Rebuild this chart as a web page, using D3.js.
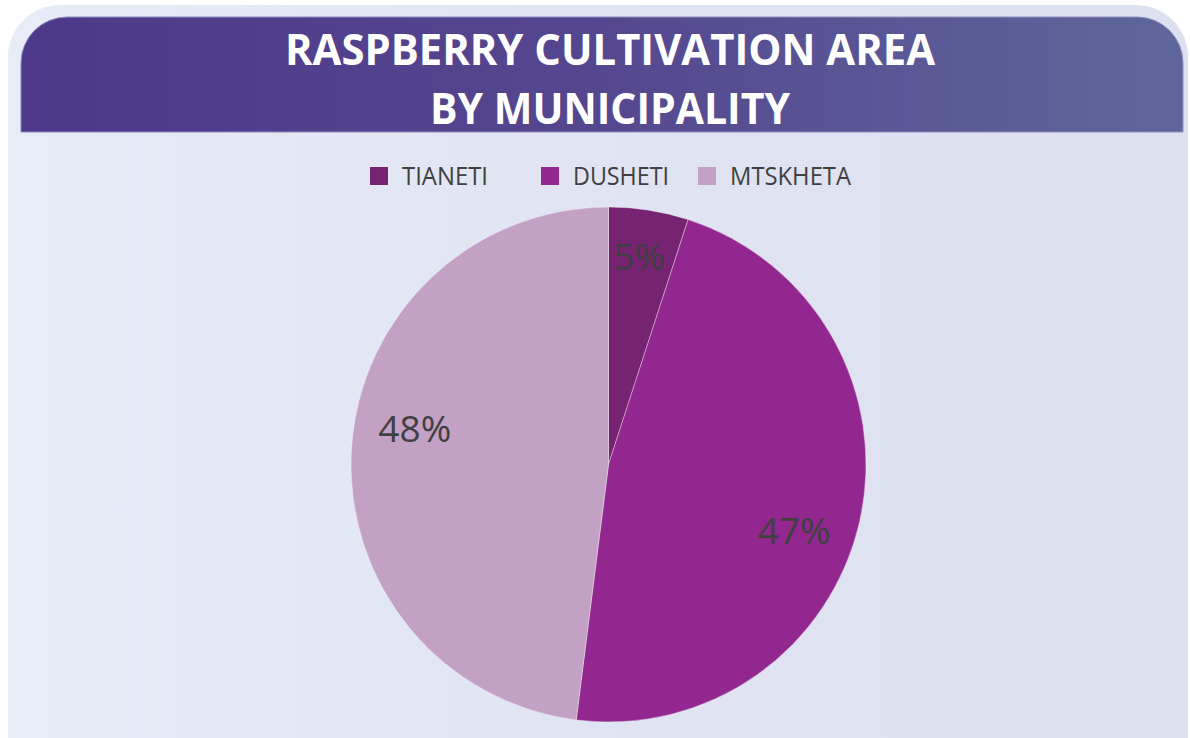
<!DOCTYPE html>
<html>
<head>
<meta charset="utf-8">
<script src="https://cdn.jsdelivr.net/npm/d3@7"></script>
<style>
  html, body { margin: 0; padding: 0; background: #ffffff; }
  svg { display: block; }
</style>
</head>
<body>
<svg id="chart" width="1190" height="738"></svg>
<script>
// Municipality shares of raspberry cultivation area (%)
const municipalities = ["TIANETI", "DUSHETI", "MTSKHETA"];
const shares = [5, 47, 48];
const sliceColors = ["#762372", "#92278f", "#c3a1c4"];
const titleLines = ["RASPBERRY CULTIVATION AREA", "BY MUNICIPALITY"];

const svg = d3.select("#chart");
const defs = svg.append("defs");

// panel background gradient
const bg = defs.append("linearGradient").attr("id", "panelBg")
  .attr("x1", "0%").attr("x2", "100%").attr("y1", "0%").attr("y2", "0%");
bg.append("stop").attr("offset", "0%").attr("stop-color", "#e7ecf7");
bg.append("stop").attr("offset", "55%").attr("stop-color", "#e0e3f1");
bg.append("stop").attr("offset", "100%").attr("stop-color", "#dde0ef");

// header band gradient
const hg = defs.append("linearGradient").attr("id", "headerBg")
  .attr("x1", "0%").attr("x2", "100%").attr("y1", "0%").attr("y2", "0%");
hg.append("stop").attr("offset", "0%").attr("stop-color", "#4e3889");
hg.append("stop").attr("offset", "50%").attr("stop-color", "#55478f");
hg.append("stop").attr("offset", "100%").attr("stop-color", "#5e679c");

// rectangle with rounded top corners only
function topRounded(x, y, w, h, r) {
  return `M${x},${y + h} L${x},${y + r} A${r},${r} 0 0 1 ${x + r},${y} ` +
         `L${x + w - r},${y} A${r},${r} 0 0 1 ${x + w},${y + r} L${x + w},${y + h} Z`;
}

svg.append("path")
  .attr("d", topRounded(8, 5, 1180, 760, 52))
  .attr("fill", "url(#panelBg)");

svg.append("path")
  .attr("d", topRounded(21, 17, 1162, 115, 46))
  .attr("fill", "url(#headerBg)")
  .attr("stroke", "#8d8cbd")
  .attr("stroke-width", 1);

// title
const titleWidths = [650, 360];
svg.append("g").selectAll("text")
  .data(titleLines)
  .join("text")
  .attr("x", 610)
  .attr("y", (d, i) => 65 + i * 59)
  .attr("text-anchor", "middle")
  .attr("textLength", (d, i) => titleWidths[i])
  .attr("lengthAdjust", "spacingAndGlyphs")
  .attr("font-family", "'Open Sans', sans-serif")
  .attr("font-weight", 700)
  .attr("font-size", 43)
  .attr("fill", "#ffffff")
  .text(d => d);

// colour scale
const color = d3.scaleOrdinal().domain(municipalities).range(sliceColors);

// legend
const legendX = [370, 541, 698];
const legendTextW = [86, 96, 121];
const legend = svg.append("g").selectAll("g")
  .data(municipalities)
  .join("g")
  .attr("transform", (d, i) => `translate(${legendX[i]},167)`);
legend.append("rect")
  .attr("width", 18).attr("height", 18)
  .attr("fill", d => color(d));
legend.append("text")
  .attr("x", 32).attr("y", 18)
  .attr("textLength", (d, i) => legendTextW[i])
  .attr("lengthAdjust", "spacingAndGlyphs")
  .attr("font-family", "'Open Sans', sans-serif")
  .attr("font-size", 25)
  .attr("fill", "#404040")
  .text(d => d);

// pie
const cx = 608.5, cy = 464.5, R = 257.5;
const pie = d3.pie().sort(null).value(d => d.value);
const arcs = pie(municipalities.map((m, i) => ({ name: m, value: shares[i] })));
const arc = d3.arc().innerRadius(0).outerRadius(R);

const g = svg.append("g").attr("transform", `translate(${cx},${cy})`);
g.selectAll("path")
  .data(arcs)
  .join("path")
  .attr("d", arc)
  .attr("fill", d => color(d.data.name))
  .attr("stroke", "rgba(255,255,255,0.35)")
  .attr("stroke-width", 1);

// data labels, placed inside each slice
const labelPos = d => {
  const big = (d.endAngle - d.startAngle) > 1;
  const a = (d.startAngle + d.endAngle) / 2 + (big ? 0.12 : -0.01);
  const r = big ? 197 : 210;
  return [Math.sin(a) * r, -Math.cos(a) * r];
};
g.selectAll("text")
  .data(arcs)
  .join("text")
  .attr("x", d => labelPos(d)[0])
  .attr("y", d => labelPos(d)[1])
  .attr("dy", "0.36em")
  .attr("text-anchor", "middle")
  .attr("font-family", "'Open Sans', sans-serif")
  .attr("font-size", 37)
  .attr("fill", "#404040")
  .text(d => `${d.data.value}%`);
</script>
</body>
</html>
